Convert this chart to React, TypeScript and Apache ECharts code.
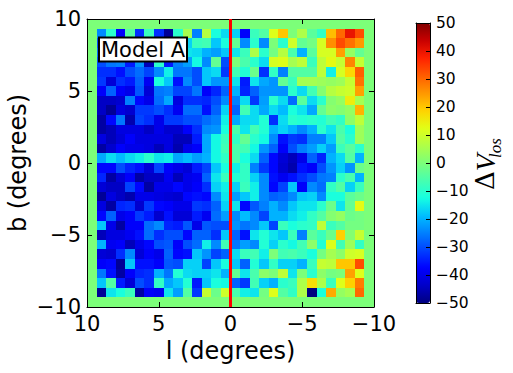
import React, { useEffect, useRef } from "react";
import * as echarts from "echarts";

const L_MAX = 10;
const B_MAX = 10;
const CELL_COUNT = 30;
const RIM_VALUE = 0;
const MODEL_LABEL = "Model A";
const X_NAME = "l (degrees)";
const Y_NAME = "b (degrees)";
const JET = ["#000080","#0000c8","#0000ff","#0040ff","#0080ff","#00bfff","#16ffe1","#47ffaf","#7cff79","#afff47","#e2ff16","#ffd200","#ff9700","#ff5c00","#ff2100","#c80000","#800000"];

// Interior cells, top row (b = +9.33) to bottom row (b = -9.33), left column (l = +9.33) to right column.
const deltaV: number[][] = [
  [-24,-10,-38,-5,-33,-8,-33,-48,-10,5,-25,7,-12,-16,-17,-38,-8,-5,12,20,0,6,-4,-9,21,30,40,33],
  [-30,-28,-32,-27,-34,-22,-30,-26,-24,-17,-8,-7,-18,-12,-3,-24,-10,-24,0,-10,10,-3,-1,11,26,33,29,25],
  [-27,-29,-25,-30,-28,-27,-24,-22,-20,-15,-16,-20,-22,-18,-15,-8,6,-10,-1,7,-6,-20,-4,11,11,24,3,-3],
  [-30,-26,-25,-35,-23,-45,-10,-35,-25,-22,-13,-24,-3,-30,0,-6,-10,-16,11,12,5,8,-8,8,13,9,27,9],
  [-33,-33,-36,-30,-27,-31,-24,-14,-26,-26,-30,-18,-16,-32,-7,-11,-2,-33,-9,-25,-5,-5,-5,8,-14,11,18,31],
  [-32,-42,-33,-35,-28,-39,-12,-18,-36,-24,-30,-18,-23,-23,-15,-35,-15,-21,-23,-3,-8,5,5,4,3,4,9,29],
  [-38,-28,-38,-40,-29,-42,-26,-25,-31,-31,-26,-38,-34,-28,-20,-34,-28,-23,-23,-23,-10,-16,-7,1,7,9,10,24],
  [-44,-44,-43,-25,-37,-40,-27,-21,-41,-33,-33,-34,-30,-24,-25,-16,-32,-22,-10,-16,-27,-4,-16,-10,1,3,15,5],
  [-44,-48,-41,-43,-32,-32,-30,-33,-39,-27,-27,-36,-28,-17,-28,-7,-16,-21,-16,-19,-12,-15,-21,-3,2,1,3,22],
  [-47,-37,-26,-46,-31,-33,-40,-32,-32,-30,-30,-27,-25,-14,-21,-16,-16,-11,-33,-16,-10,-11,-10,-11,-7,-9,2,8],
  [-47,-45,-41,-41,-41,-44,-40,-43,-43,-38,-33,-24,-23,-12,-6,-15,-7,-11,-20,-17,-20,-24,-20,-10,-15,-6,-12,4],
  [-41,-45,-42,-38,-41,-41,-41,-41,-45,-45,-35,-21,-13,-8,-9,-3,-10,-13,-24,-36,-32,-33,-25,-25,-18,-5,-10,4],
  [-47,-43,-38,-40,-40,-41,-45,-41,-46,-40,-38,-21,-13,-7,-6,-7,-13,-23,-28,-38,-30,-25,-22,-17,-22,-8,-4,-10],
  [-21,-16,-19,-16,-14,-10,-15,-14,-21,-19,-22,-20,-13,-9,-6,-12,-16,-28,-37,-42,-45,-40,-28,-34,-20,-16,-5,-20],
  [-37,-37,-30,-34,-36,-42,-31,-38,-40,-42,-35,-31,-18,-12,-14,-9,-25,-32,-37,-43,-46,-36,-38,-30,-23,-17,-23,-2],
  [-34,-47,-42,-38,-47,-44,-44,-39,-45,-40,-39,-28,-15,-8,-11,-9,-17,-24,-36,-39,-36,-33,-30,-26,-25,-10,-6,-20],
  [-42,-44,-44,-31,-37,-47,-40,-40,-37,-40,-38,-33,-17,-14,-17,-8,-14,-24,-37,-31,-18,-38,-24,-27,-9,-5,-17,-8],
  [-48,-41,-44,-46,-40,-40,-41,-42,-43,-37,-36,-37,-24,-15,-22,-18,-14,-24,-28,-27,-24,-18,-17,-24,-12,-12,-4,-2],
  [-41,-47,-34,-33,-43,-32,-37,-38,-40,-40,-32,-33,-28,-17,-15,-37,-29,-25,-20,-24,-18,-15,-15,-10,-2,-15,-3,13],
  [-37,-28,-40,-38,-32,-35,-43,-36,-42,-42,-35,-39,-27,-22,-24,-19,-24,-31,-20,-20,-16,-14,-9,-5,1,3,-2,-1],
  [-18,-40,-47,-38,-38,-27,-24,-34,-35,-29,-40,-29,-30,-30,-23,-26,-24,-18,-31,-8,-12,-10,-9,8,-8,-5,-1,-1],
  [-45,-41,-41,-39,-36,-27,-33,-30,-30,-37,-28,-28,-33,-18,-28,-36,-15,-11,-15,-18,-8,-25,-4,-8,-2,19,1,9],
  [-20,-39,-38,-45,-40,-37,-30,-29,-38,-30,-27,-14,-24,-7,-26,-22,-24,-11,-17,-10,-13,-7,2,-11,12,-7,4,-9],
  [-42,-43,-33,-24,-42,-38,-40,-28,-37,-36,-18,-23,-31,-28,-16,-8,-7,-14,0,-7,-6,-8,-12,-1,5,2,10,11],
  [-38,-37,-48,-18,-36,-36,-38,-29,-30,-17,-17,-31,-18,-12,-18,-28,-11,-18,-9,-17,-17,-20,-8,9,8,20,20,33],
  [-26,-36,-47,-38,-34,-33,-20,-26,-11,-16,-17,-17,-15,-20,-3,-15,-6,2,0,8,-15,0,-10,2,-1,0,24,12],
  [-18,-5,-35,-42,-30,-33,-9,-21,-18,-11,-35,-18,-12,-13,-28,-32,-7,-17,-20,-10,-8,6,17,6,-8,12,19,28],
  [-48,-15,-12,-8,-47,-38,-39,-15,-22,-5,-32,9,-2,10,-6,-14,-15,-1,12,-5,-9,6,-50,-12,23,3,5,30],
];
const lineL = [0, 0];
const lineB = [-10, 10];

const fmt = (v: number) => String(v).replace("-", "\u2212");
const FONT = "DejaVu Sans";

export default function App() {
  const ref = useRef<HTMLDivElement>(null);
  useEffect(() => {
    const chart = echarts.init(ref.current!, undefined, { renderer: "svg" });
    const step = (2 * L_MAX) / CELL_COUNT;
    const cells: number[][] = [];
    for (let r = 0; r < CELL_COUNT; r++) {
      for (let c = 0; c < CELL_COUNT; c++) {
        const inner = r > 0 && r < CELL_COUNT - 1 && c > 0 && c < CELL_COUNT - 1;
        cells.push([L_MAX - c * step, B_MAX - r * step, inner ? deltaV[r - 1][c - 1] : RIM_VALUE]);
      }
    }
    const mainX = (position: string, showLabel: boolean) => ({
      type: "value", gridIndex: 0, position, min: -L_MAX, max: L_MAX, interval: 5, inverse: true, z: 10,
      axisLine: { show: true, onZero: false, lineStyle: { color: "#000", width: 1 } },
      axisTick: { show: true, inside: true, length: 5, lineStyle: { color: "#000" } },
      axisLabel: { show: showLabel, formatter: fmt, fontSize: 21, fontFamily: FONT, color: "#000", margin: 6 },
      splitLine: { show: false },
      ...(showLabel ? { name: X_NAME, nameLocation: "middle", nameGap: 31, nameTextStyle: { fontSize: 24, fontFamily: FONT, color: "#000" } } : {}),
    });
    const mainY = (position: string, showLabel: boolean) => ({
      type: "value", gridIndex: 0, position, min: -B_MAX, max: B_MAX, interval: 5, z: 10,
      axisLine: { show: true, onZero: false, lineStyle: { color: "#000", width: 1 } },
      axisTick: { show: true, inside: true, length: 5, lineStyle: { color: "#000" } },
      axisLabel: { show: showLabel, formatter: fmt, fontSize: 21, fontFamily: FONT, color: "#000", margin: 6 },
      splitLine: { show: false },
      ...(showLabel ? { name: Y_NAME, nameLocation: "middle", nameGap: 57, nameMoveOverlap: false, nameTextStyle: { fontSize: 24, fontFamily: FONT, color: "#000" } } : {}),
    });
    const barX = (position: string) => ({
      type: "value", gridIndex: 1, position, min: 0, max: 1, z: 10,
      axisLine: { show: true, onZero: false, lineStyle: { color: "#000", width: 1 } },
      axisTick: { show: false }, axisLabel: { show: false }, splitLine: { show: false },
    });
    const barY = (position: string, show: boolean) => ({
      type: "value", gridIndex: 1, position, min: -50, max: 50, interval: 10, z: 10,
      axisLine: { show: true, onZero: false, lineStyle: { color: "#000", width: 1 } },
      axisTick: { show, inside: true, length: 4, lineStyle: { color: "#000" } },
      axisLabel: { show, formatter: fmt, fontSize: 15.5, fontFamily: FONT, color: "#000", margin: 6 },
      splitLine: { show: false },
    });
    chart.setOption({
      animation: false,
      grid: [
        { left: 87, top: 19, width: 287, height: 288, outerBoundsMode: "none" },
        { left: 416, top: 23, width: 14, height: 280, outerBoundsMode: "none" },
      ],
      xAxis: [mainX("bottom", true), mainX("top", false), barX("bottom"), barX("top")],
      yAxis: [mainY("left", true), mainY("right", false), barY("right", true), barY("left", false)],
      visualMap: {
        type: "continuous", min: -50, max: 50, dimension: 2, seriesIndex: 0, inRange: { color: JET },
        left: 416, top: 23, itemWidth: 14, itemHeight: 280, padding: 0, calculable: false, hoverLink: false,
        text: ["", ""], textGap: 0, realtime: false,
      },
      series: [
        {
          type: "custom", xAxisIndex: 0, yAxisIndex: 0, silent: true, z: 2,
          encode: { x: 0, y: 1 },
          data: cells,
          renderItem: (_p: any, api: any) => {
            const a = api.coord([api.value(0), api.value(1)]);
            const b = api.coord([api.value(0) - step, api.value(1) - step]);
            const x0 = Math.round(a[0] + 1e-6), y0 = Math.round(a[1] + 1e-6);
            const x1 = Math.round(b[0] + 1e-6), y1 = Math.round(b[1] + 1e-6);
            return { type: "rect", shape: { x: x0, y: y0, width: x1 - x0, height: y1 - y0 }, style: { fill: api.visual("color"), stroke: null } };
          },
        },
        {
          type: "line", xAxisIndex: 0, yAxisIndex: 0, silent: true, z: 15, showSymbol: false, symbol: "none",
          data: lineL.map((l, i) => [l, lineB[i]]),
          lineStyle: { color: "#ff0000", width: 3, opacity: 1 },
          itemStyle: { color: "#ff0000" },
        },
      ],
      graphic: [
        { type: "rect", z: 20, shape: { x: 99, y: 37.5, width: 88, height: 24 }, style: { fill: "#fff", stroke: "#000", lineWidth: 2 } },
        { type: "text", z: 21, x: 143, y: 49.5, style: { text: MODEL_LABEL, font: `21px "${FONT}"`, fill: "#000", align: "center", verticalAlign: "middle" } },
        {
          type: "text", z: 21, x: 485, y: 190, rotation: Math.PI / 2,
          style: {
            text: "{a|\u0394}{b|V}", align: "left", verticalAlign: "middle",
            rich: {
              a: { font: `26px "DejaVu Serif"`, fill: "#000" },
              b: { font: `italic 28px "Liberation Serif"`, fill: "#000" },
            },
          },
        },
        {
          type: "text", z: 21, x: 495, y: 158, rotation: Math.PI / 2,
          style: { text: "los", font: `italic 17px "Liberation Serif"`, fill: "#000", align: "left", verticalAlign: "middle" },
        },
      ],
    });
    return () => chart.dispose();
  }, []);
  return <div ref={ref} style={{ position: "absolute", left: 0, top: 0, width: 513, height: 373, background: "#fff" }} />;
}
